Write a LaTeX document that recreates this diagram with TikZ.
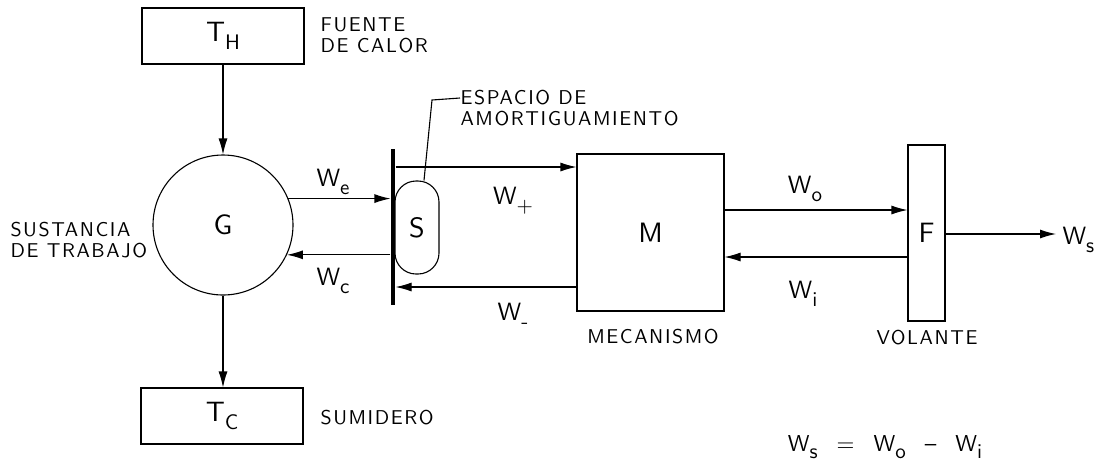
\documentclass[tikz,border=0pt]{standalone}
\usepackage{fontspec}
\newfontfamily\cad{lmsans10-regular.otf}[LetterSpace=8]
\usetikzlibrary{arrows.meta}
\newcommand\sbs[1]{\raisebox{-0.7ex}{\fontsize{10.5}{10.5}\selectfont #1}}
\begin{document}
\begin{tikzpicture}[x=0.5pt,y=-0.5pt,
  line width=0.55pt,
  arr/.style={-{Latex[length=8pt,width=4.5pt]}},
  blk/.style={draw, inner sep=0pt, font=\cad\fontsize{14}{14}\selectfont},
  lbl/.style={font=\cad\fontsize{10}{10.5}\selectfont, inner sep=0pt},
  wl/.style={font=\cad\fontsize{12.5}{12.5}\selectfont, inner sep=0pt}]
\useasboundingbox (0,0) rectangle (1104,473);
% blocks
\node[blk, minimum width=81pt, minimum height=28pt] (TH) at (223,36) {T\sbs{H}};
\node[blk, circle, minimum size=70pt] (G) at (223,225) {G};
\node[blk, minimum width=81pt, minimum height=28pt] (TC) at (222,416) {T\sbs{C}};
\node[fill, inner sep=0pt, minimum width=2pt, minimum height=78pt] (bar) at (393,227) {};
\node[blk, rounded corners=10.5pt, minimum width=22pt, minimum height=46.5pt] (S) at (417,227.5) {S};
\node[blk, minimum width=73.5pt, minimum height=78.5pt] (M) at (650.5,232.5) {M};
\node[blk, minimum width=18.5pt, minimum height=88pt] (F) at (926.5,233) {F};
% texts
\node[lbl, anchor=west, align=left] (fuente) at (320,35) {FUENTE\\DE CALOR};
\node[lbl, anchor=west] (sumidero) at (320,418) {SUMIDERO};
\node[lbl, anchor=west, align=left] (sust) at (10,240) {SUSTANCIA\\DE TRABAJO};
\node[lbl] (mec) at (653,337) {MECANISMO};
\node[lbl] (vol) at (927,338) {VOLANTE};
\node[lbl, anchor=west] (esp1) at (460,98) {ESPACIO DE};
\node[lbl, anchor=west] (esp2) at (460,119) {AMORTIGUAMIENTO};
% levels
\coordinate (yWp) at (0,167);
\coordinate (yWm) at (0,287);
\coordinate (yWo) at (0,210);
\coordinate (yWi) at (0,257);
\coordinate (yWs) at (0,234);
\coordinate (ld) at (432,100);
\coordinate (WsEnd) at (1056,234);
% connectors
\draw[arr] (TH) -- (G);
\draw[arr] (G.south) -- (G.south |- TC.north);
\draw[arr] (G.22) -- (bar.west |- G.22);
\draw[arr] (bar.west |- G.-25) -- (G.-25);
\draw[arr] (bar.east |- yWp) -- (M.west |- yWp);
\draw[arr] (M.west |- yWm) -- (bar.east |- yWm);
\draw[arr] (M.east |- yWo) -- (F.west |- yWo);
\draw[arr] (F.west |- yWi) -- (M.east |- yWi);
\draw[arr] (F.east |- yWs) -- (WsEnd);
\draw ([xshift=3.5pt]S.north) -- (ld) -- (esp1.west);
% flow labels
\node[wl] (We) at (333,182) {W\sbs{e}};
\node[wl] (Wc) at (333,281) {W\sbs{c}};
\node[wl] (Wp) at (513,201) {W\sbs{+}};
\node[wl] (Wm) at (513,316) {W\sbs{-}};
\node[wl] (Wo) at (805,189) {W\sbs{o}};
\node[wl] (Wi) at (803,294) {W\sbs{i}};
\node[wl, anchor=west] (Ws) at (1062,240) {W\sbs{s}};
\node[font=\cad\fontsize{11.5}{11.5}\selectfont, inner sep=0pt] (eq) at (885,447) {W\sbs{s}\ \ =\ \ W\sbs{o}\ \ –\ \ W\sbs{i}};
\end{tikzpicture}
\end{document}
